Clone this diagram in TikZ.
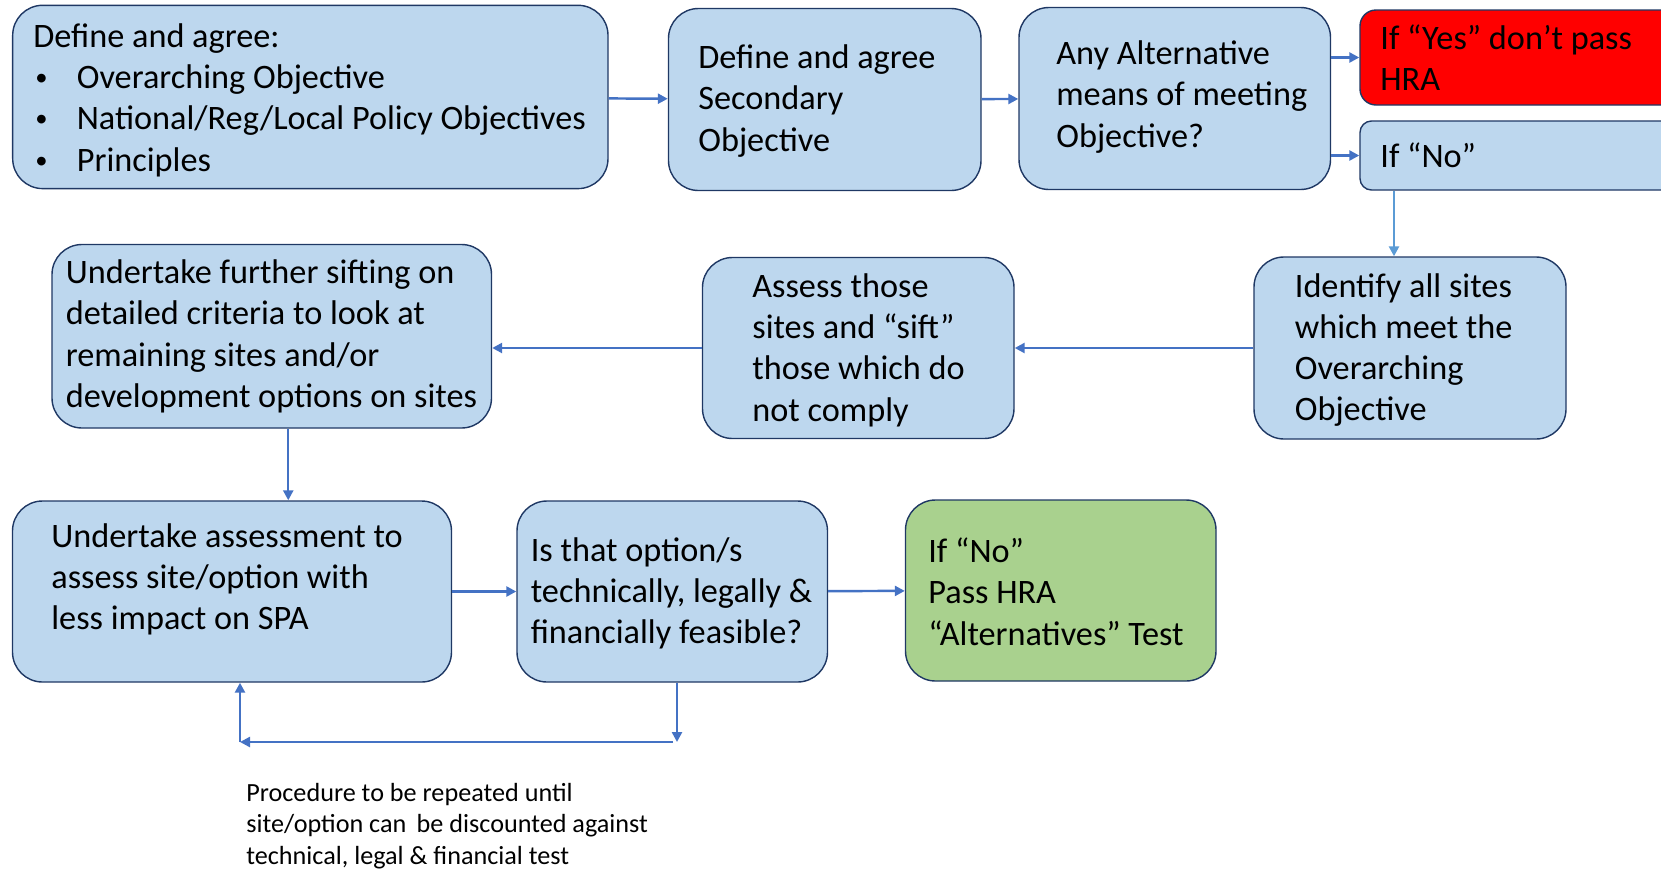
\documentclass[tikz,border=0pt]{standalone}
\usepackage{fontspec}
\setmainfont{Carlito}
\usetikzlibrary{arrows.meta}
\definecolor{boxfill}{HTML}{BDD7EE}
\definecolor{boxline}{HTML}{1F3864}
\definecolor{arrblue}{HTML}{4472C4}
\definecolor{arrlight}{HTML}{5B9BD5}
\definecolor{passgreen}{HTML}{A9D18E}
\newcommand{\itembullet}{\hspace*{0.04cm}\makebox[0.83cm][l]{\raisebox{0.06cm}{\fontsize{14}{14}\selectfont\textbullet}}}
\tikzset{
  box/.style={draw=boxline, fill=boxfill, line width=0.8pt, rounded corners=0.6cm, inner sep=0pt},
  txt/.style={anchor=west, align=left, inner sep=0pt, font=\fontsize{19.5}{23.5}\selectfont},
  arr/.style={-{Triangle[length=0.2cm,width=0.2cm]}, arrblue, line width=1.4pt},
  note/.style={anchor=base west, align=left, inner sep=0pt, font=\fontsize{14.9}{18}\selectfont}
}

\begin{document}
\begin{tikzpicture}
\useasboundingbox (0,0) rectangle (33.22,-17.4);
% top row
\node [box, minimum width=11.906cm, minimum height=3.666cm] (agree) at (6.207,-1.939) {};
\node [box, minimum width=6.25cm, minimum height=3.64cm] (second) at (16.495,-1.99) {};
\node [box, minimum width=6.23cm, minimum height=3.64cm] (alt) at (23.495,-1.97) {};
\node [box, fill=red, rounded corners=0.32cm, minimum width=7cm, minimum height=1.9cm] (yes) at (30.7,-1.15) {};
\node [box, rounded corners=0.23cm, minimum width=7cm, minimum height=1.38cm] (no) at (30.7,-3.11) {};
% middle row
\node [box, minimum width=6.24cm, minimum height=3.64cm] (identify) at (28.2,-6.96) {};
\node [box, minimum width=6.23cm, minimum height=3.62cm] (assess) at (17.165,-6.96) {};
\node [box, minimum width=8.79cm, minimum height=3.67cm] (sift) at (5.435,-6.725) {};
% bottom row
\node [box, minimum width=8.78cm, minimum height=3.62cm] (impact) at (4.64,-11.83) {};
\node [box, minimum width=6.21cm, minimum height=3.62cm] (feasible) at (13.445,-11.83) {};
\node [box, fill=passgreen, minimum width=6.21cm, minimum height=3.62cm] (pass) at (21.215,-11.81) {};

% texts
\node [txt] (agree-t) at (0.66,-2.0) {Define and agree:\\
\itembullet Overarching Objective\\
\itembullet National/Reg/Local Policy Objectives\\
\itembullet Principles};
\node [txt] (second-t) at (13.96,-2.02) {Define and agree\\Secondary\\Objective};
\node [txt] (alt-t) at (21.12,-1.94) {Any Alternative\\means of meeting\\Objective?};
\node [txt] (yes-t) at (27.6,-1.15) {If “Yes” don’t pass\\HRA};
\node [txt] (no-t) at (27.6,-3.11) {If “No”};
\node [txt] (identify-t) at (25.89,-7.0) {Identify all sites\\which meet the\\Overarching\\Objective};
\node [txt] (assess-t) at (15.04,-7.0) {Assess those\\sites and “sift”\\those which do\\not comply};
\node [txt] (sift-t) at (1.31,-6.73) {Undertake further sifting on\\detailed criteria to look at\\remaining sites and/or\\development options on sites};
\node [txt] (impact-t) at (1.02,-11.59) {Undertake assessment to\\assess site/option with\\less impact on SPA};
\node [txt] (feasible-t) at (10.61,-11.87) {Is that option/s\\technically, legally \&\\financially feasible?};
\node [txt] (pass-t) at (18.56,-11.83) {If “No”\\Pass HRA\\“Alternatives” Test};
\node [note] (repeat) at (4.92,-17.29) {Procedure to be repeated until\\site/option can\, be discounted against\\technical, legal \& financial test};

% connectors
\coordinate (loopR) at (13.54,-14.84);
\coordinate (loopL) at (4.8,-14.84);
\draw [arr] (agree) -- (second);
\draw [arr] (second) -- (alt);
\draw [arr] (alt.east |- yes.west) -- (yes.west);
\draw [arr] (alt.east |- no.west) -- (no.west);
\draw [arr, arrlight] ([xshift=-0.32cm]identify.north |- no.south) -- ([xshift=-0.32cm]identify.north);
\draw [arr] (identify) -- (assess);
\draw [arr] (assess.west) -- (assess.west -| sift.east);
\draw [arr] ([xshift=0.33cm]sift.south) -- ([xshift=0.33cm]sift.south |- impact.north);
\draw [arr] (impact) -- (feasible);
\draw [arr] (feasible) -- (pass);
\draw [arr] (feasible.south -| loopR) -- (loopR);
\draw [arr] ([xshift=-0.08cm]loopR) -- (loopL);
\draw [arr] (loopL) -- (loopL |- impact.south);
\end{tikzpicture}
\end{document}
